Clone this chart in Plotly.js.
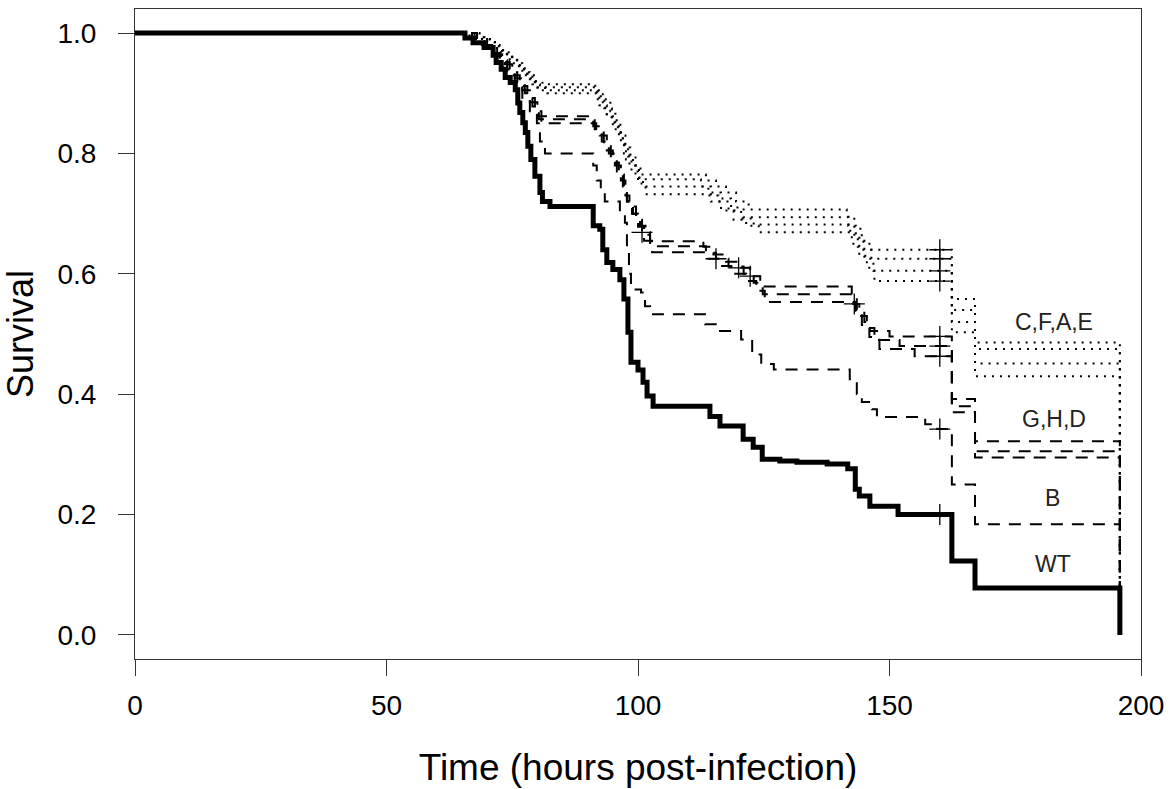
<!DOCTYPE html>
<html>
<head>
<meta charset="utf-8">
<script src="https://cdn.plot.ly/plotly-3.0.1.min.js"></script>
<style>html,body{margin:0;padding:0;background:#fff;}#chart{width:1174px;height:789px;}</style>
</head>
<body>
<div id="chart"></div>
<script>
// ---- tick labels ----
const xTickVals = [0, 50, 100, 150, 200];
const yTickVals = [0, 0.2, 0.4, 0.6, 0.8, 1.0];
const yTickText = ['0.0', '0.2', '0.4', '0.6', '0.8', '1.0'];

// ---- group labels ----
const groupLabels = ['C,F,A,E', 'G,H,D', 'B', 'WT'];
const groupLabelX = [182.7, 182.7, 182.5, 182.5];
const groupLabelY = [0.52, 0.3585, 0.227, 0.118];

// ---- WT (solid) ----
const wtTime = [0, 65.6, 67.2, 69.4, 71.2, 71.8, 72.8, 73.6, 74.6, 75.6, 76.1, 76.5, 77.1, 77.6, 78.1, 78.7, 79.5, 80.5, 81.0, 82.5, 91.1, 92.4, 93.0, 93.8, 95.0, 96.4, 97.2, 98.0, 98.6, 100.0, 101.0, 101.8, 103.0, 114.3, 116.3, 120.9, 122.9, 124.7, 128.2, 131.6, 137.6, 141.7, 143.2, 144.0, 146.1, 151.7, 162.4, 167.0, 195.8];
const wtSurv = [1.0, 0.992, 0.984, 0.976, 0.963, 0.951, 0.94, 0.926, 0.918, 0.906, 0.884, 0.868, 0.851, 0.835, 0.812, 0.79, 0.762, 0.735, 0.72, 0.712, 0.68, 0.674, 0.64, 0.619, 0.607, 0.59, 0.558, 0.503, 0.453, 0.44, 0.42, 0.397, 0.38, 0.363, 0.347, 0.325, 0.312, 0.292, 0.289, 0.287, 0.284, 0.276, 0.242, 0.231, 0.214, 0.2, 0.123, 0.078, 0.0];

// ---- B (dashed) ----
const bTime = [0, 66.5, 69.0, 71.0, 72.5, 74.0, 75.5, 77.0, 78.5, 79.9, 80.5, 81.5, 91.1, 91.8, 92.6, 93.4, 96.4, 97.4, 97.8, 98.2, 98.6, 100.6, 101.4, 102.4, 113.3, 116.3, 120.5, 122.7, 124.5, 127.0, 142.1, 143.5, 144.5, 146.5, 147.5, 157.1, 159.5, 162.4, 167.0, 195.8];
const bSurv = [1.0, 0.99, 0.98, 0.965, 0.95, 0.93, 0.91, 0.89, 0.87, 0.85, 0.82, 0.80, 0.78, 0.755, 0.735, 0.72, 0.70, 0.685, 0.64, 0.60, 0.574, 0.569, 0.546, 0.533, 0.516, 0.505, 0.491, 0.466, 0.45, 0.441, 0.425, 0.40, 0.387, 0.375, 0.362, 0.35, 0.342, 0.25, 0.184, 0.0];

// ---- G, H, D (dashed) ----
const gTime = [0, 67.0, 69.0, 71.0, 72.5, 74.0, 75.5, 77.0, 78.5, 80.0, 91.1, 92.4, 93.8, 95.0, 96.2, 97.2, 97.8, 99.0, 100.4, 101.5, 102.4, 113.0, 115.0, 117.5, 120.0, 122.3, 124.3, 142.5, 143.5, 145.0, 146.1, 150.0, 162.4, 167.0, 195.8];
const gSurv = [1.0, 0.99, 0.98, 0.967, 0.955, 0.94, 0.925, 0.905, 0.885, 0.862, 0.845, 0.83, 0.805, 0.785, 0.765, 0.74, 0.72, 0.70, 0.68, 0.665, 0.654, 0.645, 0.632, 0.62, 0.61, 0.596, 0.579, 0.565, 0.54, 0.52, 0.505, 0.496, 0.392, 0.322, 0.0];
const hTime = [0, 67.5, 69.5, 71.5, 73.0, 74.5, 76.0, 77.5, 79.0, 80.3, 91.4, 92.8, 94.2, 95.4, 96.6, 97.5, 98.3, 99.6, 100.8, 102.4, 113.5, 115.5, 118.0, 121.0, 123.0, 124.8, 142.8, 144.0, 145.5, 147.0, 152.0, 162.4, 167.0, 195.8];
const hSurv = [1.0, 0.99, 0.978, 0.965, 0.952, 0.935, 0.918, 0.90, 0.878, 0.857, 0.84, 0.82, 0.80, 0.78, 0.755, 0.73, 0.712, 0.69, 0.669, 0.646, 0.635, 0.625, 0.612, 0.60, 0.585, 0.566, 0.55, 0.53, 0.51, 0.49, 0.48, 0.38, 0.305, 0.0];
const dTime = [0, 68.0, 70.0, 72.0, 73.5, 75.0, 76.5, 78.0, 79.5, 80.8, 91.7, 93.2, 94.6, 95.8, 97.0, 97.8, 98.8, 100.0, 101.2, 102.8, 114.0, 116.0, 118.5, 121.5, 123.5, 125.2, 143.2, 144.5, 146.0, 148.0, 155.0, 162.4, 167.0, 195.8];
const dSurv = [1.0, 0.99, 0.977, 0.962, 0.948, 0.93, 0.912, 0.892, 0.87, 0.85, 0.835, 0.812, 0.79, 0.77, 0.745, 0.72, 0.70, 0.678, 0.655, 0.636, 0.625, 0.613, 0.60, 0.588, 0.572, 0.553, 0.535, 0.515, 0.495, 0.475, 0.463, 0.37, 0.295, 0.0];

// ---- C, F, A, E (dotted) ----
const cTime = [0, 67.0, 69.5, 71.5, 73.0, 75.0, 76.5, 78.0, 79.5, 81.0, 91.5, 93.0, 94.5, 95.5, 96.5, 97.5, 98.5, 99.5, 100.5, 113.5, 115.5, 117.5, 119.5, 122.0, 141.5, 143.0, 144.5, 146.0, 162.4, 167.0, 195.8];
const cSurv = [1.0, 0.993, 0.985, 0.975, 0.965, 0.955, 0.94, 0.93, 0.92, 0.915, 0.905, 0.89, 0.87, 0.85, 0.83, 0.81, 0.795, 0.78, 0.765, 0.755, 0.745, 0.735, 0.72, 0.707, 0.695, 0.675, 0.655, 0.64, 0.558, 0.486, 0.0];
const fTime = [0, 67.5, 70.0, 72.0, 74.0, 76.0, 77.5, 79.0, 80.5, 91.8, 93.3, 94.8, 96.0, 97.0, 98.0, 99.0, 100.2, 112.5, 114.5, 116.5, 118.5, 121.0, 141.8, 143.3, 144.8, 146.4, 162.4, 167.0, 195.8];
const fSurv = [1.0, 0.993, 0.985, 0.972, 0.96, 0.945, 0.93, 0.915, 0.91, 0.895, 0.875, 0.855, 0.835, 0.815, 0.795, 0.78, 0.757, 0.745, 0.735, 0.725, 0.71, 0.694, 0.68, 0.66, 0.64, 0.625, 0.54, 0.475, 0.0];
const aTime = [0, 68.0, 70.5, 72.5, 74.5, 76.5, 78.0, 79.5, 81.5, 92.0, 93.5, 95.0, 96.2, 97.2, 98.3, 99.5, 101.0, 114.0, 116.0, 118.0, 120.5, 123.0, 142.2, 143.7, 145.0, 146.8, 162.4, 167.0, 195.8];
const aSurv = [1.0, 0.99, 0.98, 0.968, 0.955, 0.94, 0.925, 0.91, 0.905, 0.885, 0.865, 0.845, 0.825, 0.80, 0.78, 0.76, 0.745, 0.73, 0.72, 0.705, 0.692, 0.682, 0.665, 0.645, 0.625, 0.605, 0.52, 0.451, 0.0];
const eTime = [0, 68.5, 71.0, 73.0, 75.0, 77.0, 78.5, 80.0, 82.0, 92.3, 93.8, 95.3, 96.6, 97.6, 98.7, 100.0, 101.5, 114.5, 116.5, 119.0, 121.5, 124.0, 142.5, 144.0, 145.5, 147.0, 162.4, 167.0, 195.8];
const eSurv = [1.0, 0.99, 0.978, 0.965, 0.95, 0.935, 0.92, 0.905, 0.90, 0.88, 0.86, 0.84, 0.815, 0.79, 0.77, 0.75, 0.732, 0.72, 0.705, 0.69, 0.68, 0.669, 0.65, 0.63, 0.61, 0.588, 0.503, 0.43, 0.0];

// ---- censoring marks ----
const censorTime = [160, 160, 160, 160, 160, 160, 160, 160, 160, 100.8, 115.5, 120.0, 122.3, 143.0];
const censorSurv = [0.2, 0.342, 0.496, 0.48, 0.64, 0.625, 0.605, 0.588, 0.463, 0.669, 0.625, 0.61, 0.596, 0.55];

const DOT = '2px,6px';
const DASH = '12px,9px';

function step(x, y, width, dash) {
  return {x: x, y: y, type: 'scatter', mode: 'lines', line: {shape: 'hv', color: '#000', width: width, dash: dash}, hoverinfo: 'skip'};
}

const traces = [
  step(cTime, cSurv, 2, DOT),
  step(fTime, fSurv, 2, DOT),
  step(aTime, aSurv, 2, DOT),
  step(eTime, eSurv, 2, DOT),
  step(gTime, gSurv, 2, DASH),
  step(hTime, hSurv, 2, DASH),
  step(dTime, dSurv, 2, DASH),
  step(bTime, bSurv, 2, DASH),
  step(wtTime, wtSurv, 5, 'solid'),
  {x: censorTime, y: censorSurv, type: 'scatter', mode: 'markers',
   marker: {symbol: 'cross-thin', size: 15, color: '#000', line: {color: '#000', width: 1.3}}, hoverinfo: 'skip'}
];

const annotations = groupLabels.map((t, i) => ({
  x: groupLabelX[i], y: groupLabelY[i], xref: 'x', yref: 'y', text: t, showarrow: false,
  font: {size: 23, color: '#222'}, xanchor: 'center', yanchor: 'middle'
}));

const layout = {
  width: 1174, height: 789,
  margin: {l: 135, r: 33, t: 9, b: 130},
  paper_bgcolor: '#fff', plot_bgcolor: '#fff',
  showlegend: false,
  font: {family: '"Liberation Sans", Arial, sans-serif', color: '#000'},
  xaxis: {
    range: [0, 200], tickmode: 'array', tickvals: xTickVals,
    ticks: 'outside', ticklen: 16, tickwidth: 1, tickcolor: '#333',
    showline: true, mirror: true, linecolor: '#333', linewidth: 1,
    showgrid: false, zeroline: false, automargin: false,
    tickfont: {size: 28, color: '#000'}, ticklabelstandoff: 5,
    title: {text: 'Time (hours post-infection)', font: {size: 37, color: '#000'}, standoff: 34}
  },
  yaxis: {
    range: [-0.04, 1.04], tickmode: 'array', tickvals: yTickVals, ticktext: yTickText,
    ticks: 'outside', ticklen: 16, tickwidth: 1, tickcolor: '#333',
    showline: true, mirror: true, linecolor: '#333', linewidth: 1,
    showgrid: false, zeroline: false, automargin: false,
    tickfont: {size: 28, color: '#000'}, ticklabelstandoff: 16,
    title: {text: 'Survival', font: {size: 36, color: '#000'}, standoff: 16}
  },
  annotations: annotations
};

Plotly.newPlot('chart', traces, layout, {displayModeBar: false, staticPlot: true});
</script>
</body>
</html>
